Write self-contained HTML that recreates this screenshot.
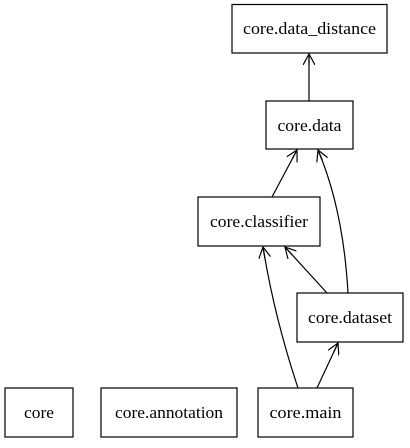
<!DOCTYPE html>
<html><head><style>body{margin:0;background:#fff}</style></head><body>
<svg width="410" height="443" xmlns="http://www.w3.org/2000/svg" font-family="Liberation Serif, serif" font-size="17">
<defs><marker id="a" viewBox="0 0 12 12" refX="11" refY="6" markerWidth="12" markerHeight="12" markerUnits="userSpaceOnUse" orient="auto"><path d="M0,0 L11,6 L0,12 M11,6 L0,6" fill="none" stroke="#000" stroke-width="1.2"/></marker></defs>
<g fill="none" stroke="#000" stroke-width="1.2">
<rect x="232" y="4.5" width="155" height="48.5"/>
<rect x="266" y="101" width="87" height="48"/>
<rect x="198" y="197" width="122" height="49"/>
<rect x="297" y="293" width="106" height="49"/>
<rect x="258" y="388" width="95" height="49"/>
<rect x="5" y="388" width="68" height="49"/>
<rect x="101" y="388" width="136" height="49"/>
<g marker-end="url(#a)">
<path d="M309,101 L309,54"/>
<path d="M272,197 L297,150"/>
<path d="M348,293 C345,240 335,190 318,150"/>
<path d="M327,293 L285,247"/>
<path d="M298,388 C282,340 270,290 263,247"/>
<path d="M317,388 L338,343"/>
</g></g>
<g text-anchor="middle" fill="#000" lengthAdjust="spacingAndGlyphs">
<text x="309.5" y="34" textLength="133" lengthAdjust="spacingAndGlyphs">core.data_distance</text>
<text x="309.5" y="131" textLength="64" lengthAdjust="spacingAndGlyphs">core.data</text>
<text x="259" y="227" textLength="98" lengthAdjust="spacingAndGlyphs">core.classifier</text>
<text x="350" y="323" textLength="84" lengthAdjust="spacingAndGlyphs">core.dataset</text>
<text x="305.5" y="418" textLength="72" lengthAdjust="spacingAndGlyphs">core.main</text>
<text x="39" y="418" textLength="30" lengthAdjust="spacingAndGlyphs">core</text>
<text x="169" y="418" textLength="108" lengthAdjust="spacingAndGlyphs">core.annotation</text>
</g>
</svg>
</body></html>
